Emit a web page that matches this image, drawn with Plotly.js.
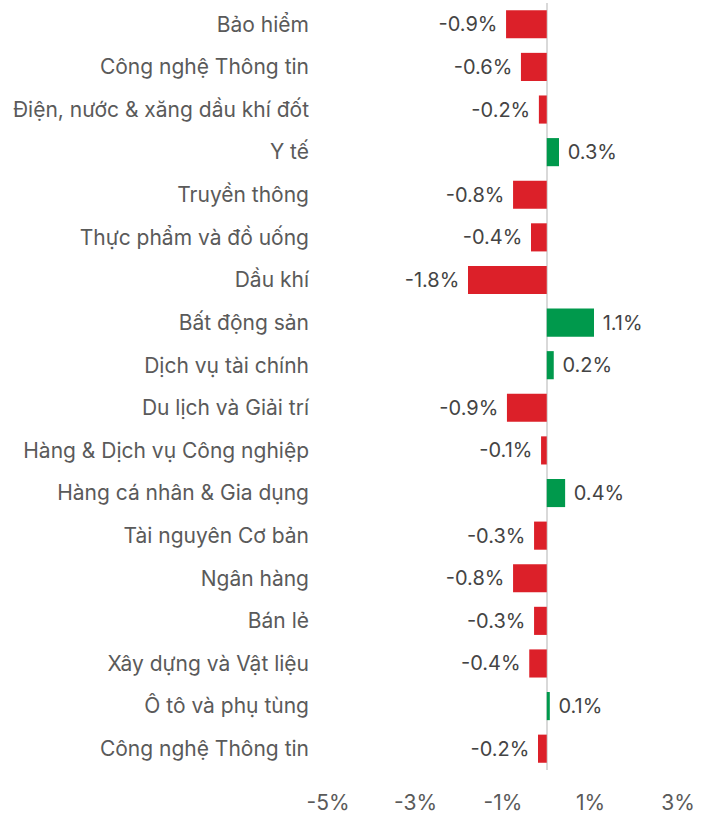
<!DOCTYPE html>
<html>
<head>
<meta charset="utf-8">
<script src="https://cdn.plot.ly/plotly-3.0.1.min.js"></script>
<style>html,body{margin:0;padding:0;background:#fff;}#chart{width:713px;height:832px;}</style>
</head>
<body>
<div id="chart"></div>
<script>
const categories = [
  "Bảo hiểm",
  "Công nghệ Thông tin",
  "Điện, nước & xăng dầu khí đốt",
  "Y tế",
  "Truyền thông",
  "Thực phẩm và đồ uống",
  "Dầu khí",
  "Bất động sản",
  "Dịch vụ tài chính",
  "Du lịch và Giải trí",
  "Hàng & Dịch vụ Công nghiệp",
  "Hàng cá nhân & Gia dụng",
  "Tài nguyên Cơ bản",
  "Ngân hàng",
  "Bán lẻ",
  "Xây dựng và Vật liệu",
  "Ô tô và phụ tùng",
  "Công nghệ Thông tin"
];
const values = [-0.93, -0.59, -0.18, 0.28, -0.77, -0.36, -1.8, 1.08, 0.16, -0.91, -0.13, 0.42, -0.29, -0.77, -0.29, -0.4, 0.07, -0.2];
const xTickVals = [-5, -3, -1, 1, 3];
const xTickText = ["-5%", "-3%", "-1%", "1%", "3%"];

const positions = categories.map((c, i) => i);
const colors = values.map(v => v >= 0 ? "#00994C" : "#DC2029");

const font = "Inter, 'Noto Sans', sans-serif";

Plotly.newPlot("chart", [{
  type: "bar",
  orientation: "h",
  x: values,
  y: positions,
  marker: {color: colors},
  text: values.map(v => v >= 0 ? "\u00a0" + v.toFixed(1) + "%" : v.toFixed(1) + "%\u00a0"),
  textposition: "outside",
  cliponaxis: false,
  textfont: {family: font, size: 20, color: "#444444"},
  hoverinfo: "none"
}], {
  width: 713,
  height: 832,
  margin: {l: 328, r: 35, t: 3, b: 62},
  paper_bgcolor: "#fff",
  plot_bgcolor: "#fff",
  bargap: 0.34,
  showlegend: false,
  font: {family: font, size: 21, color: "#5a5a5a"},
  xaxis: {
    range: [-5, 3],
    tickvals: xTickVals,
    ticktext: xTickText,
    showgrid: false,
    zeroline: true,
    zerolinecolor: "#d9d9d9",
    zerolinewidth: 2,
    showline: false,
    ticks: "",
    ticklabelstandoff: 18,
    tickfont: {family: font, size: 21, color: "#5a5a5a"}
  },
  yaxis: {
    tickvals: positions,
    ticktext: categories,
    range: [17.5, -0.5],
    showgrid: false,
    zeroline: false,
    showline: false,
    ticks: "",
    ticklabelstandoff: 18,
    tickfont: {family: font, size: 21, color: "#5a5a5a"}
  }
}, {displayModeBar: false, staticPlot: true});
</script>
</body>
</html>
